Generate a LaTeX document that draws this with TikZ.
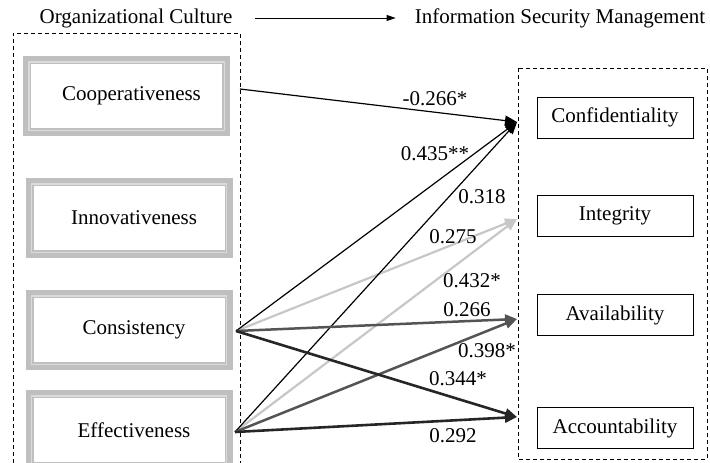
\documentclass[tikz,border=0pt]{standalone}
\usepackage{fontspec}
\setmainfont{Liberation Serif}
\usetikzlibrary{arrows.meta}

\definecolor{framegray}{gray}{0.75}
\definecolor{stripegray}{gray}{0.86}
\definecolor{lightpath}{gray}{0.78}
\definecolor{midpath}{gray}{0.33}
\definecolor{darkpath}{gray}{0.15}

\begin{document}
\begin{tikzpicture}[x=1pt, y=-1pt,
		font=\fontsize{21}{25}\selectfont,
		title/.style={inner sep=0pt},
		ocbox/.style={draw=framegray, line width=8pt, outer sep=0pt, minimum width=199pt, minimum height=72pt,
			execute at begin node=\hspace*{10pt}},
		stripe/.style={draw=stripegray, line width=1.4pt},
		isbox/.style={draw, line width=1pt, minimum width=156pt, minimum height=41pt},
		dashbox/.style={line width=0.9pt, dash pattern=on 4pt off 3pt},
		lbl/.style={inner sep=0pt},
		tip/.style={-{Triangle[length=12pt, width=10pt]}},
		thinpath/.style={tip, line width=1.2pt, black},
		lightp/.style={tip, line width=2.2pt, lightpath},
		midp/.style={tip, line width=2.5pt, midpath},
		darkp/.style={tip, line width=2.6pt, darkpath}]
		
		\useasboundingbox (0,0) rectangle (710,463);
		
		% titles
		\node[title] (oc) at (136,18) {Organizational Culture};
		\node[title] (ism) at (560,18) {Information Security Management};
		\draw[line width=1pt, -{Triangle[length=9pt, width=6pt]}] ([xshift=22pt]oc.east) -- ([xshift=-19pt]ism.west);
		
		% dashed groups
		\draw[dashbox] (13,463) |- (240,33) -- (240,463);
		\draw[dashbox] (518,68) rectangle (707,459);
		
		% organizational culture
		\node[ocbox] (coop) at (126.5,96) {Cooperativeness};
		\node[ocbox] (inno) at (129,218) {Innovativeness};
		\node[ocbox] (cons) at (129,330) {Consistency};
		\node[ocbox] (eff) at (129,430) {Effectiveness};
		\foreach \b in {coop,inno,cons,eff}
			\draw[stripe] ([shift={(1.8pt,-1.8pt)}]\b.north west) rectangle ([shift={(-1.8pt,1.8pt)}]\b.south east);
		
		% information security management
		\node[isbox] (conf) at (615,117.5) {Confidentiality};
		\node[isbox] (integ) at (615,216) {Integrity};
		\node[isbox] (avail) at (615,315) {Availability};
		\node[isbox] (acc) at (615,428) {Accountability};
		
		% path ends
		\coordinate (sCoop) at (240,89);
		\coordinate (sCons) at (236,331);
		\coordinate (sEff) at (235,432);
		\coordinate (tConf) at (517,122);
		\coordinate (tInteg) at (517,219);
		\coordinate (tAvail) at (517,319);
		\coordinate (tAcc) at (517,417);
		
		\draw[lightp] (sCons) -- (tInteg);
		\draw[lightp] (sEff) -- (tInteg);
		\draw[thinpath] (sCoop) -- (tConf);
		\draw[thinpath] (sCons) -- (tConf);
		\draw[thinpath] (sEff) -- (tConf);
		\draw[midp] (sCons) -- (tAvail);
		\draw[midp] (sEff) -- (tAvail);
		\draw[darkp] (sCons) -- (tAcc);
		\draw[darkp] (sEff) -- (tAcc);
		
		% coefficients
		\node[lbl] (l1) at (435,99) {-0.266*};
		\node[lbl] (l2) at (435,154) {0.435**};
		\node[lbl] (l3) at (482,197) {0.318};
		\node[lbl] (l4) at (453,237) {0.275};
		\node[lbl] (l5) at (472,281) {0.432*};
		\node[lbl] (l6) at (467,310) {0.266};
		\node[lbl] (l7) at (487,351) {0.398*};
		\node[lbl] (l8) at (458,379) {0.344*};
		\node[lbl] (l9) at (453,436) {0.292};
	\end{tikzpicture}
\end{document}
